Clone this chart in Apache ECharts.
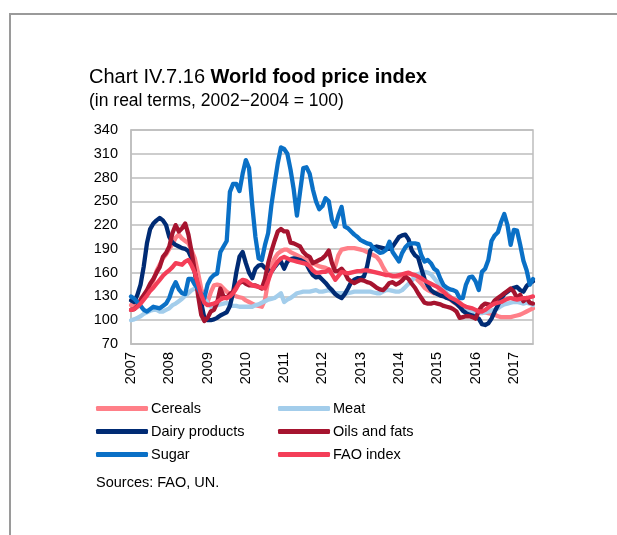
<!DOCTYPE html>
<html>
<head>
<meta charset="utf-8">
<script src="https://cdn.jsdelivr.net/npm/echarts@6/dist/echarts.min.js"></script>
<style>
  html, body { margin: 0; padding: 0; background: #fff; }
  #chart { width: 617px; height: 535px; }
</style>
</head>
<body>
<div id="chart"></div>
<script>
// Monthly FAO sub-indices, Jan 2007 – Jul 2017, deflated (2002–2004 = 100)
const firstYear = 2007;
const lastYear = 2017;
const lastMonth = 7;
const yearLabels = ['2007', '2008', '2009', '2010', '2011', '2012', '2013', '2014', '2015', '2016', '2017'];

const cereals = [
  119,119,120,124,128,134,141,150,162,170,178,183,
  190,196,204,208,203,200,197,188,178,160,140,127,
  123,135,144,145,144,140,136,133,132,130,129,128,
  125,123,121,119,118,117,126,150,168,178,184,187,
  189,189,186,184,182,180,178,176,174,172,170,168,
  167,166,164,163,168,182,189,190,191,191,191,190,
  189,188,186,184,182,180,175,167,160,157,155,155,
  155,155,157,159,158,155,150,146,141,138,136,134,
  135,133,131,129,126,123,120,117,116,115,113,111,
  111,111,111,110,109,108,107,105,104,104,104,104,
  105,106,107,109,111,113,115
];

const meat = [
  100,101,103,105,108,110,112,113,113,111,111,113,
  115,119,121,124,127,131,134,138,140,138,134,128,
  122,117,118,119,120,121,122,119,118,118,117,117,
  117,117,117,119,120,122,124,126,127,128,131,134,
  123,126,128,131,134,135,136,136,136,137,138,136,
  136,137,138,136,134,134,134,134,134,135,136,136,
  136,136,136,136,135,134,134,136,138,138,137,136,
  136,138,142,146,150,155,158,160,161,160,158,153,
  148,143,138,134,130,126,123,120,117,115,112,110,
  109,109,109,110,111,112,113,115,118,120,121,122,
  123,123,122,121,122,121,119
];

const dairy = [
  125,123,132,145,168,197,215,222,226,229,226,220,
  205,198,195,193,191,190,187,178,160,142,122,103,
  100,100,101,103,106,108,110,118,135,160,180,186,
  172,160,153,165,169,170,166,163,161,167,172,174,
  165,174,177,178,177,176,174,171,163,157,154,155,
  151,147,142,138,133,130,128,133,140,148,151,153,
  153,155,168,188,192,193,192,191,190,190,193,199,
  205,207,208,202,188,182,179,165,152,144,138,135,
  133,131,130,128,127,124,121,117,112,109,107,106,
  104,102,95,94,96,102,111,119,127,133,136,139,
  141,142,138,136,143,147,149
];

const oils = [
  113,114,118,126,132,138,146,152,160,167,180,185,
  193,210,220,212,216,222,208,186,162,132,107,99,
  103,111,113,122,140,130,128,133,136,142,147,149,
  146,144,144,144,142,140,152,172,187,200,212,215,
  212,212,198,197,195,193,186,182,180,172,174,176,
  178,182,188,172,162,162,165,160,152,149,147,149,
  151,150,148,147,144,141,139,138,142,147,148,145,
  147,150,155,152,146,141,134,128,122,121,121,122,
  121,120,118,117,116,114,111,103,104,105,105,104,
  102,112,118,121,120,119,125,128,131,134,137,140,
  136,128,132,124,128,122,121
];

const sugar = [
  130,127,123,118,113,111,114,117,116,115,118,121,
  128,140,148,139,134,133,152,152,145,140,133,128,
  145,153,157,159,186,193,200,262,272,272,263,285,
  302,292,245,205,178,176,195,210,245,272,298,318,
  316,310,290,265,232,262,292,293,285,265,250,240,
  244,254,250,226,218,232,243,218,216,212,208,205,
  201,199,197,196,191,188,185,186,189,199,186,180,
  174,185,192,196,197,197,196,182,174,176,172,165,
  162,152,144,141,139,138,136,128,128,145,154,155,
  149,138,161,165,176,200,207,211,224,234,220,195,
  214,213,195,175,163,145,152
];

const faoIndex = [
  113,114,117,121,126,131,137,141,146,151,156,160,
  163,167,172,171,170,174,176,169,160,146,132,122,
  119,120,121,123,126,128,128,130,134,140,148,151,
  150,147,144,143,142,141,140,150,161,168,174,178,
  180,178,176,175,174,173,172,171,168,163,160,160,
  161,161,164,158,151,156,161,160,159,160,161,162,
  162,163,163,162,161,160,159,158,157,157,156,156,
  157,158,159,160,158,157,155,153,150,148,146,144,
  142,139,136,132,129,127,125,122,119,117,116,115,
  113,111,111,113,116,119,121,122,123,125,127,128,
  127,126,127,128,128,129,130
];

// Month categories: one per data point, Jan of each year carries the year label
const months = [];
for (let y = firstYear; y <= lastYear; y++) {
  const end = (y === lastYear) ? lastMonth : 12;
  for (let m = 1; m <= end; m++) {
    months.push(y + '-' + String(m).padStart(2, '0'));
  }
}

const FONT = '"Liberation Sans", Arial, Helvetica, sans-serif';

const seriesDefs = [
  { name: 'Cereals',        data: cereals,  color: '#FF7F88' },
  { name: 'Meat',           data: meat,     color: '#A3CDEB' },
  { name: 'Dairy products', data: dairy,    color: '#002B74' },
  { name: 'Oils and fats',  data: oils,     color: '#A6142F' },
  { name: 'Sugar',          data: sugar,    color: '#0A70C6' },
  { name: 'FAO index',      data: faoIndex, color: '#F43E58' }
];

const legendCommon = {
  orient: 'vertical',
  top: 401,
  itemWidth: 52,
  itemHeight: 5,
  itemGap: 8,
  icon: 'roundRect',
  padding: 0,
  selectedMode: false,
  textStyle: { fontFamily: FONT, fontSize: 14.5, color: '#000', padding: [0, 0, 0, -2] }
};

const chart = echarts.init(document.getElementById('chart'), null, { renderer: 'canvas' });

chart.setOption({
  animation: false,
  backgroundColor: '#fff',
  title: {
    left: 89,
    top: 67,
    padding: 0,
    itemGap: 5,
    text: '{n|Chart IV.7.16 }{b|World food price index}',
    textStyle: {
      fontWeight: 'normal',
      rich: {
        n: { fontFamily: FONT, fontSize: 20, fontWeight: 'normal', color: '#000' },
        b: { fontFamily: FONT, fontSize: 20, fontWeight: 'bold', color: '#000' }
      }
    },
    subtext: '(in real terms, 2002\u22122004 = 100)',
    subtextStyle: { fontFamily: FONT, fontSize: 17.5, color: '#000' }
  },
  legend: [
    Object.assign({}, legendCommon, { left: 96, data: ['Cereals', 'Dairy products', 'Sugar'] }),
    Object.assign({}, legendCommon, { left: 278, data: ['Meat', 'Oils and fats', 'FAO index'] })
  ],
  grid: {
    left: 131,
    right: 84,
    top: 130,
    bottom: 191,
    show: true,
    borderColor: '#BDBDBD',
    borderWidth: 1.5
  },
  xAxis: {
    type: 'category',
    data: months,
    boundaryGap: false,
    axisLine: { show: true, lineStyle: { color: '#BDBDBD', width: 1.5 } },
    axisTick: { show: false },
    splitLine: { show: false },
    axisLabel: {
      interval: 11,
      rotate: 90,
      margin: 8,
      fontFamily: FONT,
      fontSize: 14.5,
      color: '#000',
      formatter: function (v) {
        const idx = yearLabels.indexOf(v.slice(0, 4));
        return idx >= 0 ? yearLabels[idx] : '';
      }
    }
  },
  yAxis: {
    type: 'value',
    min: 70,
    max: 340,
    interval: 30,
    axisLine: { show: true, lineStyle: { color: '#BDBDBD', width: 1.5 } },
    axisTick: { show: false },
    splitLine: { show: true, lineStyle: { color: '#BDBDBD', width: 1.5 } },
    axisLabel: { margin: 13, fontFamily: FONT, fontSize: 14.5, color: '#000' }
  },
  series: seriesDefs.map(function (s) {
    return {
      name: s.name,
      type: 'line',
      data: s.data,
      showSymbol: false,
      symbol: 'none',
      smooth: false,
      color: s.color,
      itemStyle: { color: s.color },
      lineStyle: { color: s.color, width: 4.3, cap: 'round', join: 'round' },
      emphasis: { disabled: true }
    };
  }),
  graphic: [
    {
      type: 'polyline',
      shape: { points: [[10, 535], [10, 14], [617, 14]] },
      style: { stroke: '#9A9A9A', lineWidth: 2, fill: null }
    },
    {
      type: 'text',
      left: 96,
      top: 475,
      style: { text: 'Sources: FAO, UN.', fontFamily: FONT, fontSize: 14.5, fill: '#000' }
    }
  ]
});
</script>
</body>
</html>
